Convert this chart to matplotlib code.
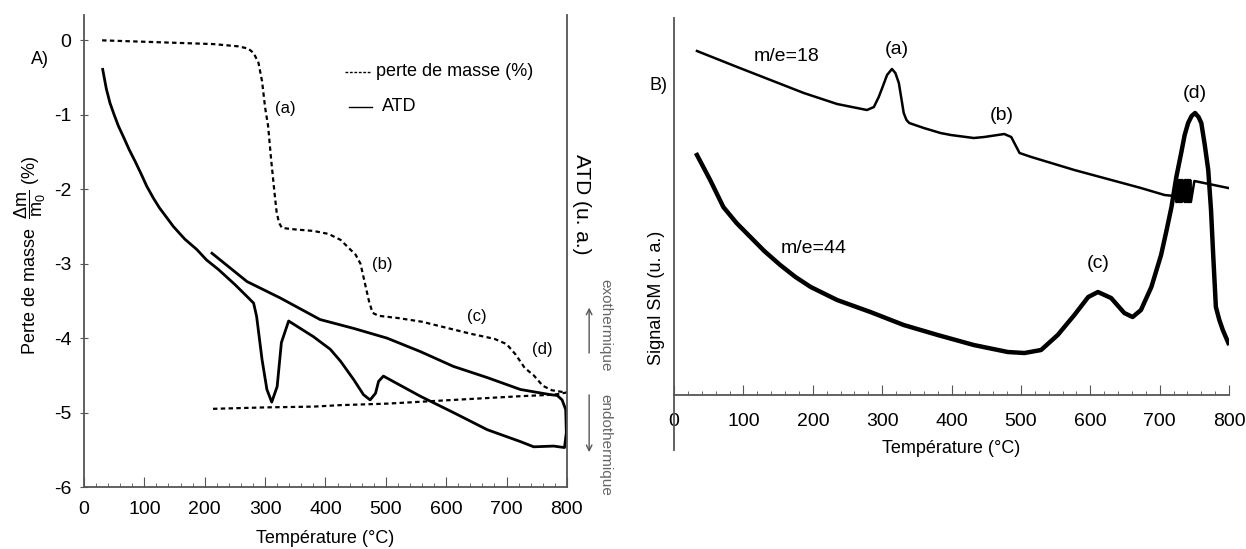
import matplotlib
matplotlib.use("Agg")
import matplotlib.pyplot as plt
from matplotlib.ticker import MultipleLocator

plt.rcParams['font.family'] = ['Liberation Sans', 'DejaVu Sans']
plt.rcParams['mathtext.fontset'] = 'custom'
plt.rcParams['mathtext.rm'] = 'Liberation Sans'
plt.rcParams['mathtext.it'] = 'Liberation Sans:italic'
plt.rcParams['axes.unicode_minus'] = False

# --- A) perte de masse (chauffe) ---
tg_T = [30, 104, 214, 255, 272, 281, 289, 295, 300, 305, 310, 315, 319, 323, 328,
        350, 380, 405, 425, 440, 450, 458, 465, 472, 478, 488, 520, 560, 600, 640,
        680, 700, 715, 730, 745, 760, 775, 790, 800]
tg_m = [0.0, -0.02, -0.05, -0.08, -0.11, -0.17, -0.3, -0.55, -0.9, -1.15, -1.6, -2.0,
        -2.3, -2.45, -2.52, -2.54, -2.56, -2.6, -2.68, -2.8, -2.88, -3.0, -3.25, -3.5,
        -3.66, -3.70, -3.73, -3.78, -3.86, -3.94, -4.01, -4.08, -4.22, -4.4, -4.5,
        -4.64, -4.7, -4.72, -4.73]
# perte de masse (refroidissement)
tgr_T = [800, 778, 723, 612, 502, 425, 380, 303, 212]
tgr_m = [-4.73, -4.76, -4.78, -4.83, -4.88, -4.90, -4.92, -4.93, -4.95]

# ATD (chauffe puis refroidissement)
atd_T = [31, 37, 43, 50, 57, 65, 75, 85, 95, 104, 115, 125, 137, 148, 167, 187, 203,
         223, 250, 270, 281, 286, 295, 303, 311, 320,
         327, 339, 380, 408, 425, 447, 463, 474, 483, 488, 496, 557, 612, 668, 723,
         745, 778, 796, 799, 798, 792, 784, 773,
         723, 668, 612, 557, 502, 447, 391, 325, 270, 212]
atd_v = [-0.39, -0.65, -0.84, -1.0, -1.15, -1.29, -1.47, -1.63, -1.8, -1.96, -2.12,
         -2.25, -2.38, -2.5, -2.67, -2.81, -2.95, -3.08, -3.28, -3.44, -3.53,
         -3.71, -4.29, -4.69, -4.86, -4.65, -4.06, -3.77, -3.98, -4.15, -4.31, -4.56,
         -4.76, -4.83, -4.74, -4.58, -4.51, -4.78, -5.0, -5.23, -5.39,
         -5.46, -5.45, -5.47, -5.27, -4.96, -4.83, -4.77, -4.76,
         -4.69, -4.53, -4.38, -4.18, -4.0, -3.87, -3.75, -3.46, -3.24, -2.86]

# --- B) spectrometrie de masse ---
m18_T = [33, 91, 139, 187, 235, 278, 288, 295, 300, 307, 314, 319, 324, 328, 331, 335,
         339, 360, 384, 399, 432, 447, 476, 486, 498, 515, 577, 625, 673, 707, 721,
         723, 724, 725, 726, 727, 728, 729, 730, 731, 732, 733, 736, 736.5, 738, 739,
         740, 741, 742, 743, 744, 745, 750, 799]
m18_s = [3.44, 3.28, 3.15, 3.02, 2.91, 2.85, 2.88, 2.98, 3.07, 3.2, 3.26, 3.22, 3.12,
         2.95, 2.82, 2.75, 2.72, 2.67, 2.62, 2.60, 2.57, 2.58, 2.61, 2.58, 2.42, 2.38,
         2.25, 2.16, 2.07, 2.0, 1.99,
         2.15, 1.93, 2.15, 1.93, 2.15, 1.93, 2.15, 1.93, 2.15, 1.93, 2.15, 1.93, 2.15,
         2.15, 1.93, 2.15, 1.93, 2.15, 1.93, 2.15, 1.93, 2.14, 2.07]
m44_T = [33, 52, 71, 90, 110, 130, 153, 175, 197, 235, 283, 331, 380, 432, 481, 505,
         529, 553, 577, 597, 611, 630, 649, 661, 673, 688, 702, 710, 717, 724, 731, 736,
         741, 746, 751, 756, 760, 765, 770, 774, 777, 781, 786, 791, 799]
m44_s = [2.40, 2.15, 1.88, 1.72, 1.58, 1.44, 1.30, 1.18, 1.08, 0.95, 0.83, 0.70, 0.60,
         0.50, 0.43, 0.42, 0.45, 0.60, 0.80, 0.98, 1.03, 0.97, 0.82, 0.78, 0.85, 1.08,
         1.40, 1.65, 1.88, 2.18, 2.42, 2.6, 2.72, 2.79, 2.82, 2.78, 2.72, 2.5, 2.25,
         1.85, 1.42, 0.88, 0.75, 0.65, 0.52]

fig = plt.figure(figsize=(12.46, 5.49), dpi=100)
spine_col = '#555555'
fs = 13

# ---------------- A ----------------
ax = fig.add_axes([0.0674, 0.1129, 0.3876, 0.8597])
ax.plot(tg_T, tg_m, color='black', lw=1.6, ls=(0, (2, 1.5)))
ax.plot(tgr_T, tgr_m, color='black', lw=1.6, ls=(0, (2, 1.5)))
ax.plot(atd_T, atd_v, color='black', lw=2.0)
ax.set_xlim(0, 800)
ax.set_ylim(-6, 0.34)
ax.spines['top'].set_visible(False)
for s in ['left', 'right', 'bottom']:
    ax.spines[s].set_color(spine_col)
    ax.spines[s].set_linewidth(1.3)
ax.xaxis.set_major_locator(MultipleLocator(100))
ax.xaxis.set_minor_locator(MultipleLocator(20))
ax.yaxis.set_major_locator(MultipleLocator(1))
ax.tick_params(axis='x', which='major', direction='in', length=7, color=spine_col,
               labelsize=14, pad=10)
ax.tick_params(axis='x', which='minor', direction='in', length=3, color=spine_col)
ax.tick_params(axis='y', direction='inout', length=6, color=spine_col, labelsize=14,
               right=False, pad=6)
ax.set_xlabel('Température (°C)', fontsize=fs, labelpad=9)
ax.text(-0.112, 0.49, r'Perte de masse  $\dfrac{\Delta \mathrm{m}}{\mathrm{m}_0}$ (%)',
        transform=ax.transAxes, rotation=90, ha='center', va='center', fontsize=fs)
ax.text(-0.091, 0.905, 'A)', transform=ax.transAxes, ha='center', va='center', fontsize=fs)

# legende
ax.plot([433, 474], [-0.42, -0.42], color='black', lw=1.0, ls=(0, (2, 1.2)))
ax.text(484, -0.42, 'perte de masse (%)', va='center', fontsize=fs)
ax.plot([439, 477], [-0.89, -0.89], color='black', lw=1.0)
ax.text(494, -0.89, 'ATD', va='center', fontsize=fs)

for lab, x, y in [('(a)', 333, -0.91), ('(b)', 494, -3.01), ('(c)', 651, -3.71),
                  ('(d)', 759, -4.15)]:
    ax.text(x, y, lab, ha='center', va='center', fontsize=12)

# axe ATD a droite
ax.text(1.031, 0.60, 'ATD (u. a.)', transform=ax.transAxes, rotation=270,
        ha='center', va='center', fontsize=15)
ax.text(1.079, 0.343, 'exothermique', transform=ax.transAxes, rotation=270,
        ha='center', va='center', fontsize=11, color='#666666')
ax.text(1.079, 0.089, 'endothermique', transform=ax.transAxes, rotation=270,
        ha='center', va='center', fontsize=11, color='#666666')
ax.annotate('', xy=(1.046, 0.386), xytext=(1.046, 0.278), xycoords='axes fraction',
            arrowprops=dict(arrowstyle='->', color='#555555', lw=1.0))
ax.annotate('', xy=(1.046, 0.068), xytext=(1.046, 0.201), xycoords='axes fraction',
            arrowprops=dict(arrowstyle='->', color='#555555', lw=1.0))

# ---------------- B ----------------
bx = fig.add_axes([0.541, 0.1803, 0.4454, 0.7869])
bx.plot(m18_T, m18_s, color='black', lw=1.8)
bx.plot(m44_T, m44_s, color='black', lw=3.2)
bx.set_xlim(0, 800)
bx.set_ylim(-0.55, 3.77)
bx.spines['top'].set_visible(False)
bx.spines['right'].set_visible(False)
bx.spines['bottom'].set_position(('data', 0))
for s in ['left', 'bottom']:
    bx.spines[s].set_color(spine_col)
    bx.spines[s].set_linewidth(1.3)
bx.set_yticks([])
bx.xaxis.set_major_locator(MultipleLocator(100))
bx.xaxis.set_minor_locator(MultipleLocator(20))
bx.tick_params(axis='x', which='major', direction='in', length=7, color=spine_col,
               labelsize=14, pad=13)
bx.tick_params(axis='x', which='minor', direction='in', length=3, color=spine_col)
bx.set_xlabel('Température (°C)', fontsize=fs, labelpad=7)
bx.text(-0.032, 0.352, 'Signal SM (u. a.)', transform=bx.transAxes, rotation=90,
        ha='center', va='center', fontsize=fs)
bx.text(-0.012, 0.843, 'B)', transform=bx.transAxes, ha='right', va='center', fontsize=fs)

for lab, x, y in [('m/e=18', 162, 3.39), ('m/e=44', 201, 1.47), ('(a)', 321, 3.46),
                  ('(b)', 473, 2.80), ('(c)', 611, 1.32), ('(d)', 750, 3.02)]:
    bx.text(x, y, lab, ha='center', va='center', fontsize=14)

fig.savefig('out.png', dpi=100)
